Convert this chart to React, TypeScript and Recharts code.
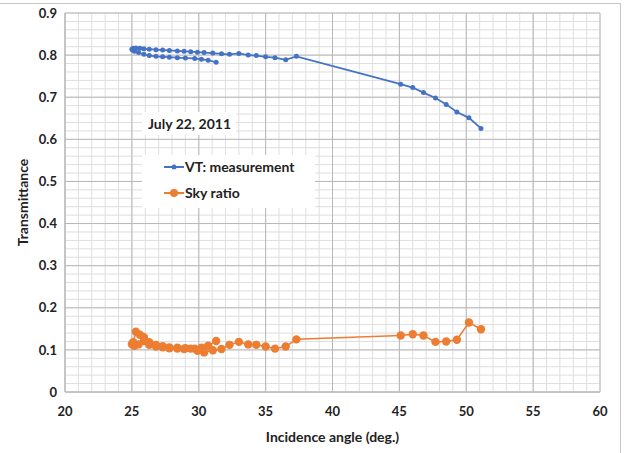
// Transmittance vs incidence angle, July 22, 2011
import React from "react";
import {
  ScatterChart,
  Scatter,
  XAxis,
  YAxis,
  CartesianGrid,
  Legend,
} from "recharts";

const xTicks = [20, 25, 30, 35, 40, 45, 50, 55, 60];
const yTicks = [0, 0.1, 0.2, 0.3, 0.4, 0.5, 0.6, 0.7, 0.8, 0.9];

// incidence angle, in time order (morning branch then afternoon)
const angleDeg = [
  31.3, 30.7, 30.2, 29.7, 29.0, 28.4, 27.8, 27.3, 26.8, 26.3, 25.9, 25.5, 25.2, 25.05, 25.0,
  25.1, 25.3, 25.6, 25.9, 26.3, 26.8, 27.3, 27.8, 28.4, 28.9, 29.4, 29.9, 30.4, 31.05, 31.7,
  32.3, 33.0, 33.7, 34.3, 35.0, 35.7, 36.5, 37.3, 45.1, 46.0, 46.8, 47.7, 48.5, 49.3, 50.2,
  51.1,
];

const vtMeasured = [
  0.783, 0.788, 0.790, 0.792, 0.793, 0.794, 0.795, 0.796, 0.797, 0.799, 0.802, 0.806, 0.809, 0.812, 0.814,
  0.816, 0.817, 0.816, 0.815, 0.814, 0.813, 0.812, 0.811, 0.810, 0.809, 0.808, 0.807, 0.806, 0.805, 0.803,
  0.802, 0.804, 0.800, 0.799, 0.796, 0.794, 0.789, 0.797, 0.731, 0.723, 0.711, 0.698, 0.683, 0.665, 0.651,
  0.626,
];

const skyRatio = [
  0.121, 0.110, 0.105, 0.103, 0.104, 0.105, 0.106, 0.109, 0.112, 0.118, 0.121, 0.113, 0.110, 0.112, 0.114,
  0.118, 0.143, 0.136, 0.130, 0.112, 0.108, 0.106, 0.104, 0.103, 0.102, 0.103, 0.098, 0.094, 0.099, 0.102,
  0.112, 0.119, 0.113, 0.112, 0.108, 0.103, 0.108, 0.125, 0.134, 0.137, 0.134, 0.119, 0.120, 0.124, 0.165,
  0.149,
];

const minorX = Array.from({ length: 41 }, (_, i) => 20 + i);
const minorY = Array.from({ length: 46 }, (_, i) => Math.round(i * 2) / 100);

const BLUE = "#4472C4";
const ORANGE = "#ED7D31";
const FONT = "Lato, 'Open Sans', sans-serif";
const TEXT = "#222";

const vtData = angleDeg.map((x, i) => ({ x, y: vtMeasured[i] }));
const skyData = angleDeg.map((x, i) => ({ x, y: skyRatio[i] }));

const dot = (r: number, color: string) => (props: any) =>
  <circle cx={props.cx} cy={props.cy} r={r} fill={color} />;

const renderLegend = () => (
  <div
    style={{
      background: "#fff",
      width: 173,
      height: 53,
      fontFamily: FONT,
      fontWeight: 700,
      fontSize: 14,
      color: TEXT,
    }}
  >
    {[
      { name: "VT: measurement", color: BLUE, r: 2.5 },
      { name: "Sky ratio", color: ORANGE, r: 4 },
    ].map((item, i) => (
      <div
        key={item.name}
        style={{
          position: "absolute",
          left: 22,
          top: i === 0 ? 3 : 29,
          display: "flex",
          alignItems: "center",
        }}
      >
        <svg width={20} height={14}>
          <line x1={0} y1={7} x2={20} y2={7} stroke={item.color} strokeWidth={2} />
          <circle cx={10} cy={7} r={item.r} fill={item.color} />
        </svg>
        <span style={{ marginLeft: 1 }}>{item.name}</span>
      </div>
    ))}
  </div>
);

export default function App() {
  return (
    <div
      style={{
        position: "absolute",
        left: 0,
        top: 0,
        width: 624,
        height: 453,
        background: "#fff",
        overflow: "hidden",
      }}
    >
      <div
        style={{
          position: "absolute",
          left: -2,
          top: 3,
          width: 621,
          height: 470,
          border: "1px solid #c6c6c6",
        }}
      />
      <ScatterChart
        width={624}
        height={453}
        margin={{ top: 13, right: 24, left: 0, bottom: 0 }}
        style={{ position: "absolute", left: 0, top: 0 }}
      >
        <CartesianGrid
          stroke="#dedede"
          verticalValues={minorX}
          horizontalValues={minorY}
        />
        <CartesianGrid stroke="#b8b8b8" />
        <XAxis
          type="number"
          dataKey="x"
          domain={[20, 60]}
          ticks={xTicks}
          interval={0}
          axisLine={{ stroke: "#b8b8b8" }}
          tickLine={false}
          tickMargin={9}
          height={61}
          tick={{ fontFamily: FONT, fontWeight: 700, fontSize: 13, fill: TEXT }}
          label={{
            value: "Incidence angle (deg.)",
            position: "insideBottom",
            offset: 11,
            style: { fontFamily: FONT, fontWeight: 700, fontSize: 14, fill: TEXT },
          }}
        />
        <YAxis
          type="number"
          dataKey="y"
          domain={[0, 0.9]}
          ticks={yTicks}
          interval={0}
          axisLine={{ stroke: "#b8b8b8" }}
          tickLine={false}
          width={65}
          tick={{ fontFamily: FONT, fontWeight: 700, fontSize: 13, fill: TEXT }}
          label={{
            value: "Transmittance",
            angle: -90,
            position: "insideLeft",
            offset: 23,
            style: {
              textAnchor: "middle",
              fontFamily: FONT,
              fontWeight: 700,
              fontSize: 14,
              fill: TEXT,
            },
          }}
        />
        <Legend
          layout="vertical"
          align="center"
          verticalAlign="middle"
          content={renderLegend}
          wrapperStyle={{ left: 142, top: 155, width: 173, height: 53 }}
        />
        <Scatter
          name="VT: measurement"
          data={vtData}
          line={{ stroke: BLUE, strokeWidth: 1.75 }}
          lineType="joint"
          shape={dot(2.5, BLUE)}
          isAnimationActive={false}
        />
        <Scatter
          name="Sky ratio"
          data={skyData}
          line={{ stroke: ORANGE, strokeWidth: 1.5 }}
          lineType="joint"
          shape={dot(4.2, ORANGE)}
          isAnimationActive={false}
        />
      </ScatterChart>
      <div
        style={{
          position: "absolute",
          left: 142,
          top: 112,
          width: 94,
          height: 23,
          background: "#fff",
          fontFamily: FONT,
          fontWeight: 700,
          fontSize: 14,
          color: TEXT,
          lineHeight: "23px",
          paddingLeft: 6,
          boxSizing: "border-box",
        }}
      >
        July 22, 2011
      </div>
    </div>
  );
}
